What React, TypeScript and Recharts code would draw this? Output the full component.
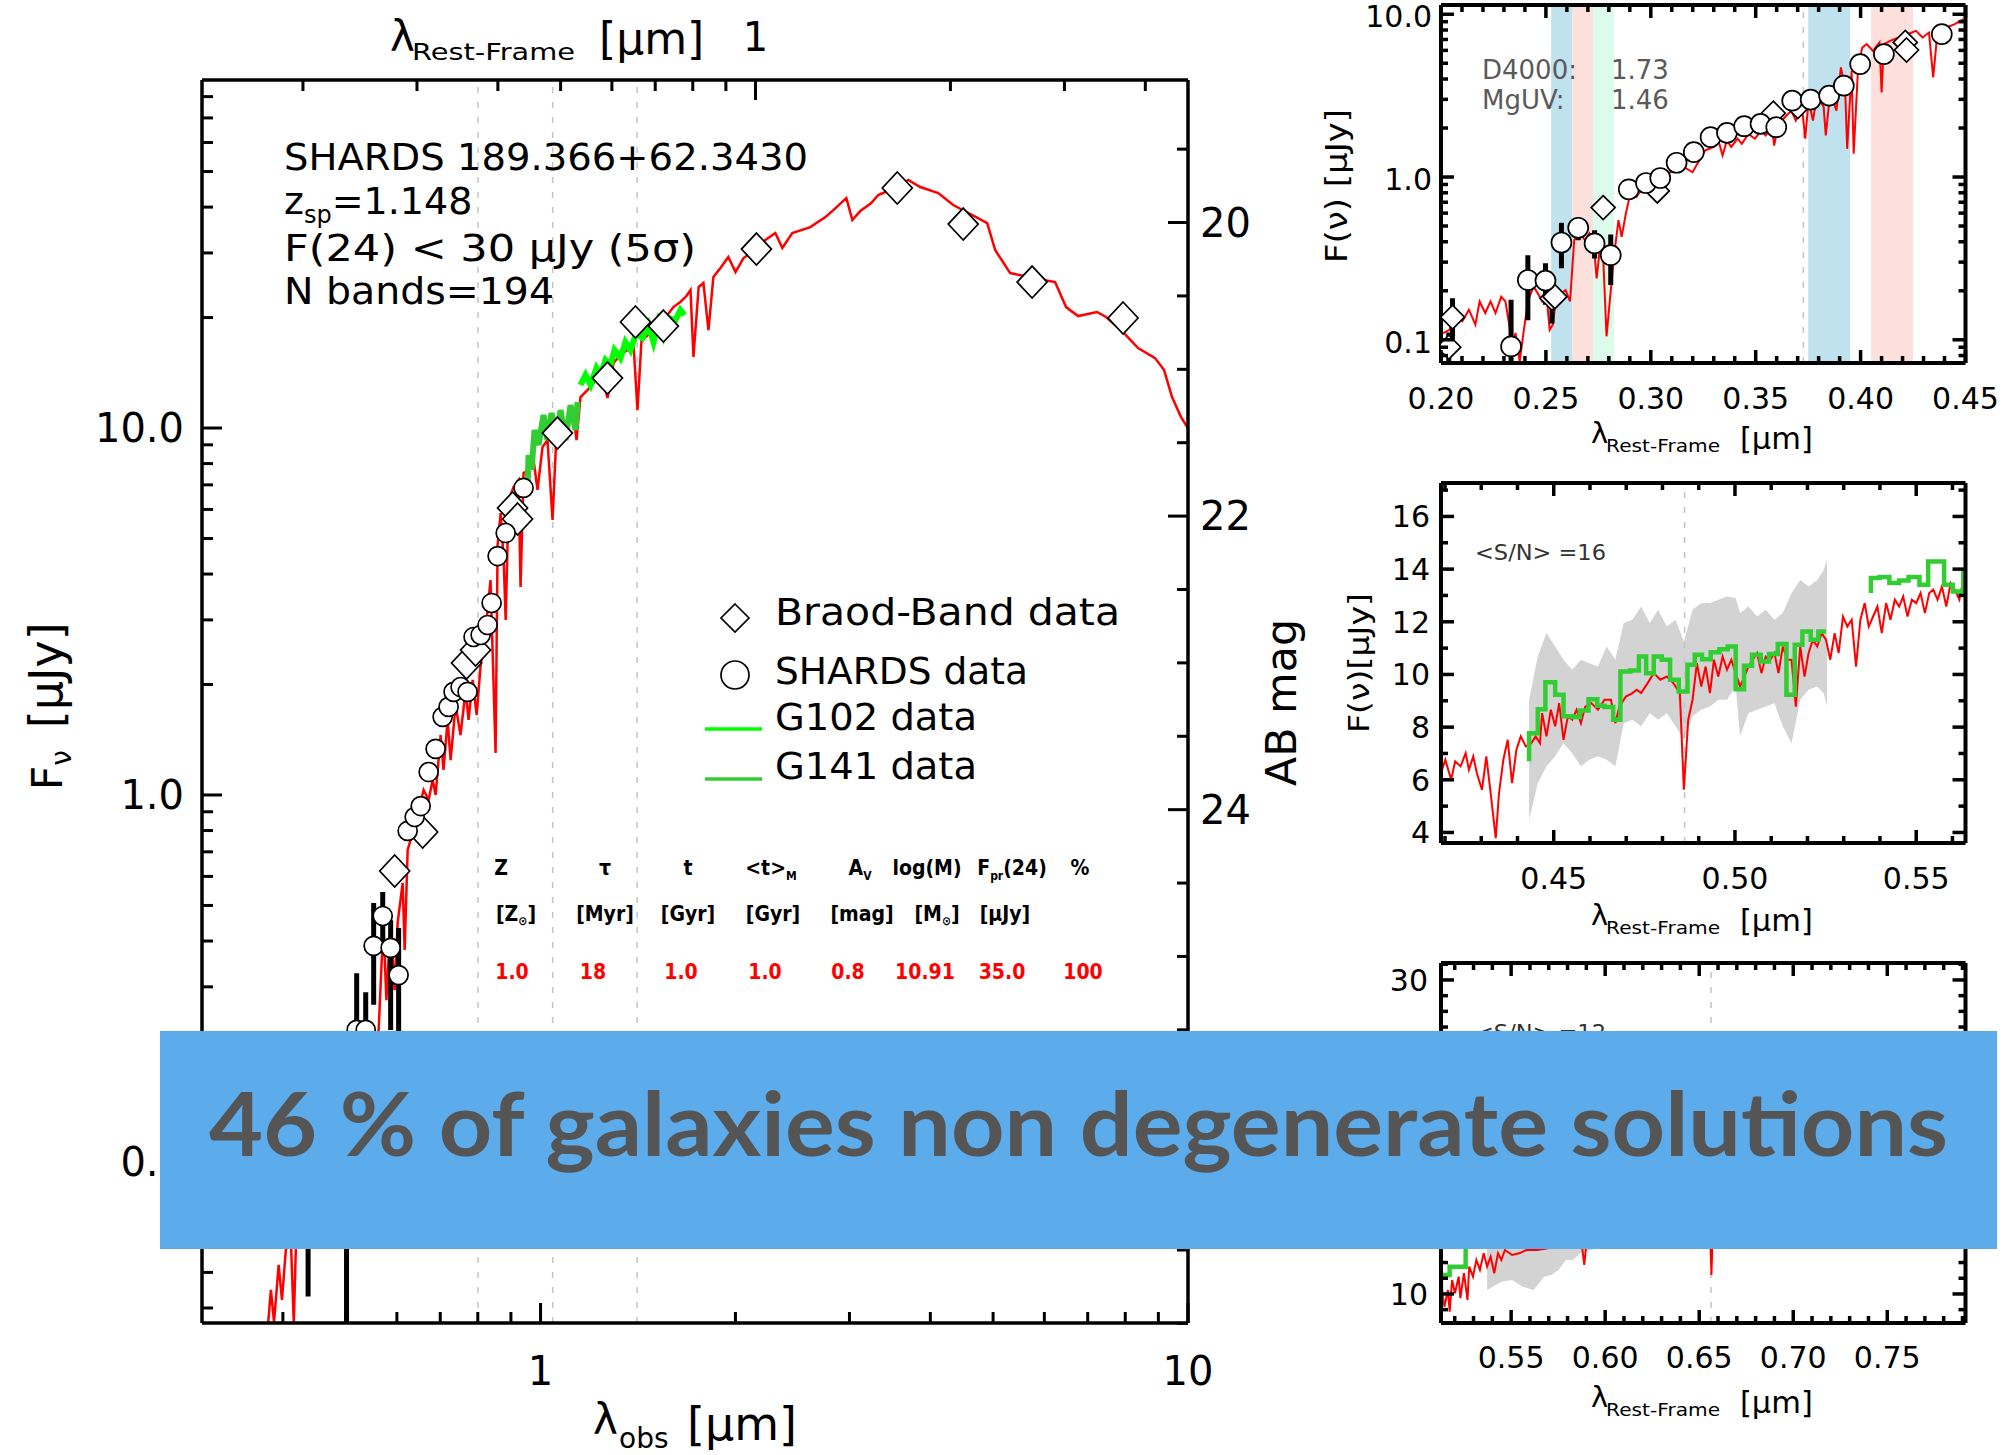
import React from 'react';
import {
  ComposedChart, Line, Scatter, Area, XAxis, YAxis,
  ReferenceLine, ReferenceArea,
} from 'recharts';

const FONT = "'DejaVu Sans', 'Liberation Sans', sans-serif";
const RED = '#ff0000';
const G102 = '#00ff00';
const G141 = '#32cd32';
const zsp = 1.148;

// ---------- main SED, observed frame [um] vs flux [uJy]
const sedLam = [0.3777,0.3833,0.3876,0.394,0.3987,0.4042,0.4115,0.4158,0.42,0.4417,
  0.4913,0.5465,0.5623,0.5685,0.5726,0.578,0.5868,0.5951,0.6016,0.6124,
  0.6168,0.6234,0.6365,0.648,0.6598,0.6717,0.6813,0.6886,0.7009,0.7082,
  0.7186,0.7263,0.7393,0.7523,0.7661,0.7741,0.7856,0.7968,0.8081,0.8195,
  0.8254,0.837,0.8522,0.8584,0.8676,0.8771,0.8834,0.8926,0.9085,0.9248,
  0.9314,0.9414,0.9583,0.9754,0.9894,1.0071,1.025,1.0436,1.0586,1.081,
  1.1007,1.1205,1.1366,1.1527,1.1816,1.2072,1.2378,1.2689,1.2964,1.3287,
  1.3619,1.3915,1.4116,1.432,1.4627,1.4944,1.5314,1.57,1.6039,1.6443,
  1.6801,1.7047,1.7224,1.7548,1.7846,1.817,1.849,1.896,1.9502,2.0005,
  2.058,2.155,2.225,2.305,2.363,2.448,2.61,2.754,2.833,2.967,
  3.031,3.118,3.242,3.323,3.556,3.698,3.858,4.114,4.339,4.708,
  4.896,5.037,5.313,5.766,6.233,6.482,6.765,7.236,7.472,7.938,
  8.373,8.895,9.184,9.448,9.755,10.0];
const sedFlux = [0.0327,0.0448,0.0366,0.0524,0.0421,0.0576,0.0613,0.0364,0.0695,0.0893,
  0.1386,0.202,0.229,0.355,0.421,0.276,0.456,0.294,0.448,0.576,
  0.378,0.708,0.803,0.910,1.032,0.969,1.099,1.0,1.457,1.17,
  1.601,1.245,1.759,1.457,1.932,1.601,2.058,1.652,2.261,2.645,
  2.998,3.853,1.301,4.799,5.867,4.368,2.998,6.366,6.905,7.218,
  3.688,7.542,7.686,8.182,6.78,8.876,9.275,5.614,9.752,10.0,
  10.32,11.34,9.275,12.15,12.69,13.27,14.21,12.07,15.04,15.81,
  16.32,17.04,11.19,17.37,17.86,18.49,19.69,20.32,21.36,22.05,
  22.89,23.77,15.61,24.23,24.85,18.49,25.79,27.29,29.24,26.61,
  29.06,30.74,32.53,33.99,30.94,33.99,35.29,37.57,39.26,42.33,
  36.88,39.02,41.03,43.14,45.37,47.4,45.37,43.69,40.52,37.57,
  36.19,30.55,26.44,25.63,24.99,21.36,20.19,20.71,20.07,18.26,
  16.52,15.51,14.39,12.15,10.71,10.0];

const g141Lam = [0.9548,0.9582,0.9685,0.9789,0.9929,1.0107,1.025,1.0399,1.0586,1.0736,1.0929,1.1125,1.1324,1.1407];
const g141Flux = [6.78,8.44,7.69,9.88,8.99,10.85,9.275,10.99,9.393,11.19,9.275,11.55,9.875,11.77];
const g102Lam = [1.1527,1.1735,1.1946,1.2201,1.2378,1.2597,1.2822,1.301,1.3287,1.3527,1.377,1.406,1.4367,1.4677,1.4944,1.5206,1.5478,1.5757,1.6158,1.6443,1.6677];
const g102Flux = [13.1,13.95,13.1,14.57,13.95,15.32,14.85,16.32,15.51,17.16,16.32,18.15,17.59,19.09,17.16,19.45,17.86,19.94,19.69,20.96,20.32];

const bbLam = [0.4375,0.4414,0.5432,0.5462,0.5953,0.6576,0.7686,0.7937,0.9053,0.9215,1.062,1.2689,1.4016,1.5479,2.155,3.556,4.496,5.744,7.938];
const bbFlux = [0.09,0.138,0.180,0.184,0.6208,0.7929,2.289,2.484,6.053,5.649,9.69,13.68,19.45,18.96,30.74,45.08,35.96,24.99,19.94];
const bbLo = [0.043,0.1,0.126];
const bbHi = [0.111,0.18,0.227];

const shLam = [0.5016,0.52,0.537,0.5524,0.5705,0.5868,0.6037,0.6234,0.6391,0.653,0.6717,0.6886,0.706,0.7211,0.734,0.7525,0.7714,0.788,0.8081,0.8283,0.8403,0.8584,0.8834,0.9414];
const shFlux = [0.091,0.229,0.229,0.388,0.468,0.383,0.323,0.798,0.871,0.933,1.155,1.335,1.632,1.738,1.909,1.969,1.909,2.695,2.729,2.906,3.336,4.479,5.175,6.865];
const shLo = [0.0366,0.15,0.17,0.268,0.378,0.229,0.215];
const shHi = [0.176,0.327,0.29,0.508,0.544,0.456,0.434];

const obsLines = [0.8006, 1.0441, 1.4097];

// ---------- UV zoom panel (rest frame)
const uvLam = [0.2010,0.2041,0.2061,0.2102,0.2133,0.2164,0.2184,0.2211,0.2236,0.2260,
  0.2287,0.2307,0.2324,0.2338,0.2355,0.2375,0.2395,0.2416,0.2441,0.2461,
  0.2482,0.2502,0.2518,0.2533,0.2553,0.2574,0.2594,0.2615,0.2635,0.2662,
  0.2686,0.2707,0.2727,0.2742,0.2758,0.2773,0.2789,0.2805,0.2826,0.2846,
  0.2861,0.2881,0.2902,0.2932,0.2953,0.2994,0.3035,0.3076,0.3117,0.3158,
  0.3199,0.3230,0.3260,0.3301,0.3322,0.3342,0.3363,0.3383,0.3414,0.3434,
  0.3465,0.3496,0.3527,0.3547,0.3578,0.3588,0.3609,0.3639,0.3670,0.3691,
  0.3721,0.3736,0.3752,0.3773,0.3793,0.3824,0.3834,0.3855,0.3885,0.3906,
  0.3926,0.3936,0.3957,0.3967,0.3988,0.4008,0.4029,0.4059,0.4090,0.4100,
  0.4111,0.4141,0.4182,0.4223,0.4264,0.4295,0.4326,0.4346,0.4367,0.4408,
  0.4449,0.4490];
const uvFlux = [0.110,0.115,0.146,0.130,0.153,0.124,0.172,0.146,0.172,0.146,
  0.184,0.172,0.126,0.091,0.110,0.0737,0.115,0.176,0.212,0.193,
  0.172,0.193,0.115,0.124,0.202,0.193,0.202,0.172,0.410,0.450,
  0.410,0.450,0.391,0.238,0.373,0.324,0.105,0.176,0.339,0.543,
  0.429,0.596,0.790,0.754,0.829,0.869,0.954,1.05,1.10,1.15,
  1.07,1.26,1.46,1.53,1.68,1.36,1.68,1.53,1.72,1.60,
  1.84,1.72,1.93,1.80,2.02,1.56,2.12,2.33,2.56,2.22,
  2.68,1.72,2.95,2.22,3.24,2.68,1.80,3.31,2.56,4.72,
  3.56,1.49,4.50,1.39,4.72,6.25,6.55,5.96,6.71,3.31,
  6.55,6.87,7.20,7.54,7.91,7.20,7.72,4.10,7.91,8.29,
  8.69,9.32];
const uvBbLam = [0.2037,0.2055,0.2529,0.2543,0.2773,0.3031,0.3584,0.3701,0.4213,0.4219];
const uvBbFlux = [0.0901,0.1377,0.180,0.184,0.649,0.821,2.466,2.709,6.71,6.03];
const uvBbLo = [0.0723,0.1,0.126];
const uvBbHi = [0.111,0.18,0.227];
const uvShLam = [0.2334,0.2414,0.2498,0.2574,0.2654,0.2732,0.2809,0.2895,0.2977,0.3045,0.3123,0.3205,0.3285,0.3363,0.3445,0.3523,0.3598,0.3674,0.3762,0.3850,0.3920,0.3998,0.4111,0.4387];
const uvShFlux = [0.091,0.233,0.231,0.396,0.488,0.391,0.331,0.840,0.919,0.986,1.224,1.422,1.758,1.868,2.052,2.121,2.023,2.944,2.99,3.162,3.641,4.94,5.69,7.55];
const uvShLo = [0.0725,0.132,0.164,0.275,0.409,0.316,0.217];
const uvShHi = [0.176,0.331,0.295,0.523,0.564,0.471,0.444];
const blueBands = [[0.2525, 0.2625], [0.375, 0.395]];
const redBands = [[0.2625, 0.2725], [0.405, 0.425]];
const greenBands = [[0.2725, 0.2825]];
const uvLines = [0.3727];

// ---------- G102 panel (rest frame)
const optLam = [0.4189,0.4201,0.4217,0.4228,0.4243,0.4257,0.4266,0.4278,0.4288,0.4302,
  0.4314,0.4326,0.4340,0.4349,0.4361,0.4373,0.4385,0.4397,0.4409,0.4423,
  0.4438,0.4450,0.4462,0.4468,0.4480,0.4492,0.4504,0.4515,0.4527,0.4539,
  0.4551,0.4563,0.4575,0.4587,0.4604,0.4622,0.4640,0.4658,0.4670,0.4681,
  0.4699,0.4717,0.4729,0.4741,0.4759,0.4776,0.4794,0.4812,0.4830,0.4848,
  0.4859,0.4871,0.4883,0.4895,0.4907,0.4919,0.4931,0.4942,0.4954,0.4966,
  0.4978,0.4990,0.5002,0.5014,0.5026,0.5037,0.5049,0.5061,0.5073,0.5085,
  0.5097,0.5109,0.5120,0.5132,0.5144,0.5156,0.5168,0.5180,0.5192,0.5203,
  0.5215,0.5227,0.5239,0.5251,0.5263,0.5275,0.5286,0.5298,0.5310,0.5322,
  0.5334,0.5346,0.5358,0.5369,0.5381,0.5393,0.5405,0.5417,0.5429,0.5441,
  0.5453,0.5464,0.5476,0.5488,0.5500,0.5512,0.5524,0.5536,0.5547,0.5559,
  0.5571,0.5583,0.5595,0.5607,0.5619,0.5630];
const optFlux = [6.25,6.76,6.00,6.70,6.51,7.01,6.38,6.89,6.25,5.62,
  6.89,5.49,3.78,5.49,6.76,7.52,5.87,7.14,7.65,7.27,
  7.39,7.65,7.39,8.53,7.65,8.66,8.03,8.91,7.52,8.41,
  8.28,8.66,8.15,8.78,8.91,8.66,9.04,9.04,8.15,8.78,
  9.16,9.29,9.42,9.29,9.67,10.05,9.80,9.92,9.67,9.29,
  5.62,8.28,9.04,10.43,9.54,10.30,9.29,10.56,9.92,10.68,
  10.18,10.56,10.05,9.54,9.92,10.30,10.56,10.81,10.05,10.68,
  10.56,10.81,10.05,11.06,10.56,10.56,8.78,11.06,9.92,10.81,
  11.32,11.06,11.57,11.32,10.56,11.57,10.81,12.20,11.82,12.08,
  10.30,12.08,12.71,11.82,12.20,12.58,11.57,12.71,12.08,12.84,
  12.58,12.96,12.20,12.84,12.71,13.09,12.33,13.09,13.22,12.84,
  13.34,12.58,13.47,13.22,12.84,13.59];
const optStepLam = [0.4432,0.4432,0.4456,0.4477,0.4504,0.4527,0.4551,0.4572,0.4596,0.4620,0.4640,0.4664,
  0.4684,0.4711,0.4735,0.4755,0.4776,0.4798,0.4821,0.4845,0.4869,0.4889,
  0.4909,0.4933,0.4957,0.4980,0.5002,0.5025,0.5047,0.5071,0.5094,0.5118,
  0.5142,0.5165,0.5186,0.5209,0.5230,0.5251,0.5300,
  0.5375,0.5375,0.5399,0.5426,0.5453,0.5479,0.5509,0.5533,0.5577,0.5601,0.5630,0.5636];
const optStepFlux = [6.70,7.77,8.68,9.70,9.23,8.41,8.38,8.63,9.06,8.81,8.76,8.28,
  10.11,10.15,10.68,10.05,10.68,10.56,9.80,9.35,10.37,10.75,
  10.58,10.84,10.96,11.06,9.44,10.33,10.75,10.49,10.78,11.16,
  9.23,11.13,11.63,11.32,11.63,11.63,null,
  13.09,13.66,13.70,13.47,13.57,13.70,13.41,14.29,13.41,13.15,13.91,13.91];
const optBandLam = [0.4432,0.4456,0.4480,0.4504,0.4527,0.4551,0.4575,0.4598,0.4622,0.4646,
  0.4670,0.4693,0.4717,0.4741,0.4765,0.4788,0.4812,0.4836,0.4859,0.4883,
  0.4907,0.4931,0.4954,0.4978,0.5002,0.5014,0.5037,0.5061,0.5085,0.5109,
  0.5132,0.5156,0.5180,0.5203,0.5227,0.5245,0.5254];
const optBandLo = [4.48,5.87,6.51,6.89,7.39,7.01,6.51,6.76,6.89,6.76,
  6.51,8.15,8.28,8.03,8.53,8.28,8.53,8.03,7.52,8.41,
  8.66,8.78,9.04,9.04,9.54,7.65,8.53,8.66,8.78,8.91,
  8.03,7.39,9.04,9.42,9.54,9.29,8.78];
const optBandHi = [9.04,10.68,11.57,11.06,10.56,10.18,10.56,10.43,10.30,11.06,
  10.56,11.95,12.08,12.58,11.95,12.46,11.82,12.08,11.25,12.46,
  12.71,12.71,12.84,12.96,12.90,12.33,12.58,12.20,12.46,12.08,
  12.33,13.09,13.59,13.34,13.59,13.97,14.35];
const optLines = [0.4861];

// ---------- G141 panel (rest frame)
const nirLam = [0.5125,0.5145,0.5164,0.5173,0.5186,0.5201,0.5221,0.5230,0.5249,0.5268,
  0.5277,0.5297,0.5315,0.5334,0.5354,0.5372,0.5391,0.5410,0.5430,0.5448,
  0.5467,0.5505,0.5543,0.5581,0.5638,0.5695,
  0.578,0.587,0.5889,0.5905,0.61,0.63,0.6552,0.6565,0.6578,0.68,0.70,0.72,0.74,0.76,0.78,0.7916];
const nirFlux = [10.89,9.19,10.25,8.87,10.89,10.04,11.10,9.73,11.32,9.62,
  11.74,11.10,12.17,11.53,12.59,11.74,12.38,11.32,12.59,12.17,
  12.80,12.48,12.59,12.80,12.80,12.91,
  13.6,13.7,11.85,13.9,14.6,15.3,16.0,11.21,16.2,17.2,18.0,18.8,19.5,20.3,21.0,21.5];
const nirStepLam = [0.5127,0.5127,0.5173,0.5258,0.535,0.545,0.56,0.58,0.60,0.62,0.64,0.66,0.68,0.70,0.72,0.74,0.76,0.78,0.7916];
const nirStepFlux = [9.19,11.21,11.74,13.2,13.6,14.1,14.7,15.2,15.8,16.4,17.0,17.6,18.2,18.9,19.5,20.1,20.7,21.3,21.3];
const nirBandLam = [0.5372,0.5448,0.5505,0.5562,0.5619,0.5676,0.5714,0.5752,0.5790,0.5828,0.5866,0.5923,0.5961,0.61,0.63,0.65,0.665];
const nirBandLo = [10.25,10.78,10.89,10.46,10.25,11.10,11.21,11.53,12.17,12.17,12.59,12.80,12.91,14.0,14.8,15.4,15.8];
const nirBandHi = [15.5,16.0,16.2,16.0,16.0,16.5,16.8,17.0,17.5,17.5,18.0,18.2,18.3,19.0,19.8,20.5,21.0];
const nirLines = [0.6563];

// ---------- tick lists
const obsTicks = [0.4,0.5,0.6,0.7,0.8,0.9,1,2,3,4,5,6,7,8,9,10];
const restTicks = [0.2,0.3,0.4,0.5,0.6,0.7,0.8,0.9,1,2,3,4];
const fluxTicks = [0.04,0.05,0.06,0.07,0.08,0.09,0.1,0.2,0.3,0.4,0.5,0.6,0.7,0.8,0.9,1,2,3,4,5,6,7,8,9,10,20,30,40,50,60,70,80];
const magTicks = [19.5,20,20.5,21,21.5,22,22.5,23,23.5,24,24.5,25,25.5,26,26.5,27,27.5];
const uvXTicks = [0.2,0.21,0.22,0.23,0.24,0.25,0.26,0.27,0.28,0.29,0.3,0.31,0.32,0.33,0.34,0.35,0.36,0.37,0.38,0.39,0.4,0.41,0.42,0.43,0.44,0.45];
const uvYTicks = [0.08,0.09,0.1,0.2,0.3,0.4,0.5,0.6,0.7,0.8,0.9,1,2,3,4,5,6,7,8,9,10];
const optXTicks = [0.42,0.43,0.44,0.45,0.46,0.47,0.48,0.49,0.5,0.51,0.52,0.53,0.54,0.55,0.56];
const optYTicks = [4,5,6,7,8,9,10,11,12,13,14,15,16,17];
const nirXTicks = [0.52,0.53,0.54,0.55,0.56,0.57,0.58,0.59,0.6,0.61,0.62,0.63,0.64,0.65,0.66,0.67,0.68,0.69,0.7,0.71,0.72,0.73,0.74,0.75,0.76,0.77,0.78,0.79];
const nirYTicks = [9,10,11,12,13,14,15,16,17,18,19,20,21,22,23,24,25,26,27,28,29,30,31];

const fitHead = ['Z', 'τ', 't', '<t>', 'A', 'log(M)', 'F', '%'];
const fitValues = ['1.0', '18', '1.0', '1.0', '0.8', '10.91', '35.0', '100'];

// ---------- helpers
const pts = (xs: number[], ys: (number | null)[]) => xs.map((x, i) => ({ x, f: ys[i] }));
const band = (xs: number[], lo: number[], hi: number[]) => xs.map((x, i) => ({ x, r: [lo[i], hi[i]] }));
// vertical error segments, broken apart by null points
const errSegs = (xs: number[], lo: number[], hi: number[]) => {
  const out: { x: number; f: number | null }[] = [];
  lo.forEach((l, i) => {
    out.push({ x: xs[i], f: l }, { x: xs[i], f: hi[i] }, { x: xs[i], f: null });
  });
  return out;
};

const near = (a: number, b: number) => Math.abs(a - b) <= 1e-6 * Math.max(1, Math.abs(b));

type Side = 'left' | 'right' | 'top' | 'bottom';
interface TickStyle { majLen: number; minLen: number; width: number; fontSize: number; offset: number; dyEm?: number }

function makeTick(side: Side, majors: number[], st: TickStyle, fmt?: (v: number) => string | null) {
  return (props: any) => {
    const { x, y, payload } = props;
    const v = Number(payload.value);
    const major = majors.some((m) => near(v, m));
    const len = major ? st.majLen : st.minLen;
    const label = fmt && major ? fmt(v) : null;
    const mid = `${st.dyEm ?? 0.36}em`;
    let x2 = x, y2 = y, tx = x, ty = y, dy = '0';
    let anchor: any = 'middle';
    if (side === 'bottom') { y2 = y - len; ty = y + st.offset; }
    if (side === 'top') { y2 = y + len; ty = y - st.offset; }
    if (side === 'left') { x2 = x + len; tx = x - st.offset; anchor = 'end'; dy = mid; }
    if (side === 'right') { x2 = x - len; tx = x + st.offset; anchor = 'start'; dy = mid; }
    return (
      <g>
        <line x1={x} y1={y} x2={x2} y2={y2} stroke="#000" strokeWidth={st.width} />
        {label !== null && (
          <text x={tx} y={ty} dy={dy} textAnchor={anchor} fontFamily={FONT} fontSize={st.fontSize} fill="#000" stroke="none">
            {label}
          </text>
        )}
      </g>
    );
  };
}

const axisBase = {
  type: 'number' as const,
  allowDataOverflow: true,
  interval: 0 as const,
  tickSize: 0,
  tickMargin: 0,
  tickLine: false,
};

const circleShape = (r: number) => (p: any) =>
  <circle cx={p.cx} cy={p.cy} r={r} fill="#fff" stroke="#000" strokeWidth={1.7} />;
const diamondShape = (w: number, h: number) => (p: any) =>
  <path d={`M${p.cx},${p.cy - h} L${p.cx + w},${p.cy} L${p.cx},${p.cy + h} L${p.cx - w},${p.cy} Z`} fill="#fff" stroke="#000" strokeWidth={1.7} />;

// ---------- main SED panel
function SedPanel() {
  const st: TickStyle = { majLen: 20, minLen: 11, width: 3, fontSize: 40, offset: 0 };
  const frame = { stroke: '#000', strokeWidth: 3.5 };
  const fTop = 88.8;
  const fBot = 0.0364;
  const magDomain: [number, number] = [23.9 - 2.5 * Math.log10(fTop), 23.9 - 2.5 * Math.log10(fBot)];
  // top axis shares the observed-frame scale; its ticks sit at rest-frame values
  const restAtObs = restTicks.map((r) => r * (1 + zsp));
  const errData = [...errSegs(bbLam, bbLo, bbHi), ...errSegs(shLam, shLo, shHi)];
  return (
    <ComposedChart width={1320} height={1455} margin={{ top: 0, right: 0, bottom: 0, left: 0 }}>
      <XAxis {...axisBase} xAxisId="obs" dataKey="x" scale="log" domain={[0.3, 10]} ticks={obsTicks}
        height={132} axisLine={frame} tick={makeTick('bottom', [1, 10], { ...st, offset: 62 }, (v) => String(v))} />
      <XAxis {...axisBase} xAxisId="rest" orientation="top" dataKey="x" scale="log" domain={[0.3, 10]} ticks={restAtObs}
        height={80} axisLine={frame} tick={makeTick('top', [1 + zsp], { ...st, offset: 29 }, (v) => String(Math.round(v / (1 + zsp))))} />
      <YAxis {...axisBase} yAxisId="flux" scale="log" domain={[fBot, fTop]} ticks={fluxTicks} width={202}
        axisLine={frame} tick={makeTick('left', [0.1, 1, 10], { ...st, offset: 18 }, (v) => v.toFixed(1))} />
      <YAxis {...axisBase} yAxisId="mag" orientation="right" reversed domain={magDomain} ticks={magTicks} width={132}
        axisLine={frame} tick={makeTick('right', [20, 22, 24, 26], { ...st, offset: 12 }, (v) => (v < 25 ? String(v) : null))} />
      {obsLines.map((l) => (
        <ReferenceLine key={l} xAxisId="obs" yAxisId="flux" x={l} stroke="#c4c4c4" strokeWidth={1.5} strokeDasharray="6 9" />
      ))}
      <Line xAxisId="rest" yAxisId="flux" data={pts(sedLam, sedFlux)} dataKey="f" type="linear" stroke={RED}
        strokeWidth={2.5} dot={false} isAnimationActive={false} />
      <Line xAxisId="obs" yAxisId="flux" data={pts(g141Lam, g141Flux)} dataKey="f" type="linear" stroke={G141}
        strokeWidth={6} dot={false} isAnimationActive={false} />
      <Line xAxisId="obs" yAxisId="flux" data={pts(g102Lam, g102Flux)} dataKey="f" type="linear" stroke={G102}
        strokeWidth={6} dot={false} isAnimationActive={false} />
      <Line xAxisId="obs" yAxisId="flux" data={errData} dataKey="f" type="linear" stroke="#000"
        strokeWidth={5} dot={false} isAnimationActive={false} />
      <Scatter xAxisId="obs" yAxisId="flux" data={pts(bbLam, bbFlux)} dataKey="f"
        shape={diamondShape(15, 16)} isAnimationActive={false} />
      <Scatter xAxisId="obs" yAxisId="flux" data={pts(shLam, shFlux)} dataKey="f"
        shape={circleShape(9.5)} isAnimationActive={false} />
    </ComposedChart>
  );
}

// ---------- axes shared by the three zoom panels
function panelAxes(o: {
  xDomain: [number, number]; yDomain: [number, number]; yLog?: boolean;
  xTicks: number[]; xMajors: number[]; yTicks: number[]; yMajors: number[];
  fmtY: (v: number) => string | null; yOff: number; xOff: number; top: number; bottom: number; dyEm?: number;
}) {
  const st: TickStyle = { majLen: 13, minLen: 7, width: 3.5, fontSize: 30, offset: 0 };
  const frame = { stroke: '#000', strokeWidth: 4 };
  // the mirrored right axis carries no series, so a log axis is drawn on log10 values
  const rDomain: [number, number] = o.yLog ? [Math.log10(o.yDomain[0]), Math.log10(o.yDomain[1])] : o.yDomain;
  const rTicks = o.yLog ? o.yTicks.map(Math.log10) : o.yTicks;
  const rMajors = o.yLog ? o.yMajors.map(Math.log10) : o.yMajors;
  return [
    <XAxis key="xb" {...axisBase} xAxisId="b" dataKey="x" domain={o.xDomain} ticks={o.xTicks} height={o.bottom}
      axisLine={frame} tick={makeTick('bottom', o.xMajors, { ...st, offset: o.xOff }, (v) => v.toFixed(2))} />,
    <XAxis key="xt" {...axisBase} xAxisId="t" orientation="top" dataKey="x" domain={o.xDomain} ticks={o.xTicks} height={o.top}
      axisLine={frame} tick={makeTick('top', o.xMajors, st)} />,
    <YAxis key="yl" {...axisBase} yAxisId="l" scale={o.yLog ? 'log' : 'linear'} domain={o.yDomain} ticks={o.yTicks} width={141}
      axisLine={frame} tick={makeTick('left', o.yMajors, { ...st, offset: o.yOff, dyEm: o.dyEm }, o.fmtY)} />,
    <YAxis key="yr" {...axisBase} yAxisId="r" orientation="right" domain={rDomain} ticks={rTicks} width={48.5}
      axisLine={frame} tick={makeTick('right', rMajors, st)} />,
  ];
}

function UvPanel() {
  return (
    <ComposedChart width={714} height={480} margin={{ top: 0, right: 0, bottom: 0, left: 0 }}>
      {panelAxes({
        xDomain: [0.2, 0.45], yDomain: [0.072, 11.4], yLog: true,
        xTicks: uvXTicks, xMajors: [0.2, 0.25, 0.3, 0.35, 0.4, 0.45],
        yTicks: uvYTicks, yMajors: [0.1, 1, 10], fmtY: (v) => v.toFixed(1),
        yOff: 9, xOff: 46, top: 5, bottom: 117, dyEm: 0.44,
      })}
      {blueBands.map((b) => (
        <ReferenceArea key={'b' + b[0]} xAxisId="b" yAxisId="l" x1={b[0]} x2={b[1]} fill="#c0e2ee" fillOpacity={1} stroke="none" />
      ))}
      {redBands.map((b) => (
        <ReferenceArea key={'r' + b[0]} xAxisId="b" yAxisId="l" x1={b[0]} x2={b[1]} fill="#fde0dc" fillOpacity={1} stroke="none" />
      ))}
      {greenBands.map((b) => (
        <ReferenceArea key={'g' + b[0]} xAxisId="b" yAxisId="l" x1={b[0]} x2={b[1]} fill="#dcfbeb" fillOpacity={1} stroke="none" />
      ))}
      {uvLines.map((l) => (
        <ReferenceLine key={l} xAxisId="b" yAxisId="l" x={l} stroke="#c4c4c4" strokeWidth={1.5} strokeDasharray="6 9" />
      ))}
      <Line xAxisId="t" yAxisId="l" data={pts(uvLam, uvFlux)} dataKey="f" type="linear" stroke={RED}
        strokeWidth={2} dot={false} isAnimationActive={false} />
      <Line xAxisId="b" yAxisId="l" data={[...errSegs(uvBbLam, uvBbLo, uvBbHi), ...errSegs(uvShLam, uvShLo, uvShHi)]}
        dataKey="f" type="linear" stroke="#000" strokeWidth={5} dot={false} isAnimationActive={false} />
      <Scatter xAxisId="b" yAxisId="l" data={pts(uvBbLam, uvBbFlux)} dataKey="f"
        shape={diamondShape(12, 12)} isAnimationActive={false} />
      <Scatter xAxisId="b" yAxisId="l" data={pts(uvShLam, uvShFlux)} dataKey="f"
        shape={circleShape(10)} isAnimationActive={false} />
    </ComposedChart>
  );
}

function OptPanel() {
  return (
    <ComposedChart width={714} height={480} margin={{ top: 0, right: 0, bottom: 0, left: 0 }}>
      {panelAxes({
        xDomain: [0.4189, 0.5636], yDomain: [3.6, 17.27],
        xTicks: optXTicks, xMajors: [0.45, 0.5, 0.55],
        yTicks: optYTicks, yMajors: [4, 6, 8, 10, 12, 14, 16], fmtY: (v) => String(v),
        yOff: 11, xOff: 46, top: 13, bottom: 107,
      })}
      <Area xAxisId="b" yAxisId="l" data={band(optBandLam, optBandLo, optBandHi)} dataKey="r" type="linear"
        fill="#d3d3d3" fillOpacity={1} stroke="none" isAnimationActive={false} />
      {optLines.map((l) => (
        <ReferenceLine key={l} xAxisId="b" yAxisId="l" x={l} stroke="#c4c4c4" strokeWidth={1.5} strokeDasharray="6 9" />
      ))}
      <Line xAxisId="t" yAxisId="l" data={pts(optLam, optFlux)} dataKey="f" type="linear" stroke={RED}
        strokeWidth={2} dot={false} isAnimationActive={false} />
      <Line xAxisId="b" yAxisId="l" data={pts(optStepLam, optStepFlux)} dataKey="f" type="stepAfter" stroke={G141}
        strokeWidth={4.5} dot={false} isAnimationActive={false} />
    </ComposedChart>
  );
}

function NirPanel() {
  return (
    <ComposedChart width={714} height={505} margin={{ top: 0, right: 0, bottom: 0, left: 0 }}>
      {panelAxes({
        xDomain: [0.5127, 0.7916], yDomain: [8.15, 31.08],
        xTicks: nirXTicks, xMajors: [0.55, 0.6, 0.65, 0.7, 0.75],
        yTicks: nirYTicks, yMajors: [10, 15, 20, 25, 30],
        // the 15-25 labels sit under the banner in the original
        fmtY: (v) => (v === 10 || v === 30 ? String(v) : null),
        yOff: 13, xOff: 45, top: 13, bottom: 132,
      })}
      <Area xAxisId="b" yAxisId="l" data={band(nirBandLam, nirBandLo, nirBandHi)} dataKey="r" type="linear"
        fill="#d3d3d3" fillOpacity={1} stroke="none" isAnimationActive={false} />
      {nirLines.map((l) => (
        <ReferenceLine key={l} xAxisId="b" yAxisId="l" x={l} stroke="#c4c4c4" strokeWidth={1.5} strokeDasharray="6 9" />
      ))}
      <Line xAxisId="t" yAxisId="l" data={pts(nirLam, nirFlux)} dataKey="f" type="linear" stroke={RED}
        strokeWidth={2} dot={false} isAnimationActive={false} />
      <Line xAxisId="b" yAxisId="l" data={pts(nirStepLam, nirStepFlux)} dataKey="f" type="stepAfter" stroke={G141}
        strokeWidth={4.5} dot={false} isAnimationActive={false} />
    </ComposedChart>
  );
}

function RestTitle({ x, y, big, sub, bracketX, subLen }: { x: number; y: number; big: number; sub: number; bracketX: number; subLen: number }) {
  return (
    <g fontFamily={FONT} fill="#000">
      <text x={x} y={y} fontSize={big}>λ</text>
      <text x={x + big * 0.52} y={y + big * 0.3} fontSize={sub} textLength={subLen} lengthAdjust="spacingAndGlyphs">Rest-Frame</text>
      <text x={bracketX} y={y + big * 0.2} fontSize={big * 1.05}>[μm]</text>
    </g>
  );
}

function Annotations() {
  const headX = [501, 605, 688, 771, 860, 927, 1012, 1080];
  const unitX = [516, 605, 688, 773, 862, 937, 1005];
  const valX = [512, 593, 681, 765, 848, 925, 1002, 1083];
  const tb = { fontFamily: "'DejaVu Sans Condensed', 'DejaVu Sans', sans-serif", fontWeight: 700, fontSize: 21, textAnchor: 'middle' as const };
  return (
    <svg width={2014} height={1455} style={{ position: 'absolute', left: 0, top: 0, pointerEvents: 'none' }}>
      {/* main panel titles */}
      <g fontFamily={FONT} fill="#000">
        <text x={390} y={51} fontSize={42}>λ</text>
        <text x={412} y={60} fontSize={23} textLength={163} lengthAdjust="spacingAndGlyphs">Rest-Frame</text>
        <text x={599} y={54} fontSize={44}>[μm]</text>
        <text x={593} y={1434} fontSize={42}>λ</text>
        <text x={619} y={1448} fontSize={28}>obs</text>
        <text x={687} y={1440} fontSize={46}>[μm]</text>
        <text transform="translate(62,790) rotate(-90)" fontSize={42}>
          F<tspan fontSize={28} dy={9}>ν</tspan><tspan dy={-9} dx={22} fontSize={46}>[μJy]</tspan>
        </text>
        <text transform="translate(1296,786) rotate(-90)" fontSize={42} textLength={167} lengthAdjust="spacingAndGlyphs">AB mag</text>

        <text x={284} y={170} fontSize={38} textLength={524} lengthAdjust="spacingAndGlyphs">SHARDS 189.366+62.3430</text>
        <text x={284} y={214} fontSize={38}>z<tspan fontSize={24} dy={9}>sp</tspan><tspan dy={-9}>=1.148</tspan></text>
        <text x={284} y={261} fontSize={38} textLength={412} lengthAdjust="spacingAndGlyphs">F(24) &lt; 30 μJy (5σ)</text>
        <text x={284} y={304} fontSize={38} textLength={270} lengthAdjust="spacingAndGlyphs">N bands=194</text>

        <text x={775} y={625} fontSize={38} textLength={345} lengthAdjust="spacingAndGlyphs">Braod-Band data</text>
        <text x={775} y={684} fontSize={38} textLength={253} lengthAdjust="spacingAndGlyphs">SHARDS data</text>
        <text x={775} y={730} fontSize={38} textLength={202} lengthAdjust="spacingAndGlyphs">G102 data</text>
        <text x={775} y={779} fontSize={38} textLength={202} lengthAdjust="spacingAndGlyphs">G141 data</text>
      </g>
      <path d="M735,604 L749,618 L735,632 L721,618 Z" fill="#fff" stroke="#000" strokeWidth={1.7} />
      <circle cx={735} cy={675} r={14} fill="#fff" stroke="#000" strokeWidth={1.7} />
      <line x1={705} x2={762} y1={729} y2={729} stroke={G102} strokeWidth={3.5} />
      <line x1={705} x2={762} y1={779} y2={779} stroke={G141} strokeWidth={3.5} />

      {/* fit table */}
      <g {...tb} fill="#000">
        {fitHead.map((h, i) => (
          <text key={'h' + i} x={headX[i]} y={875}>
            {h}
            {i === 3 && <tspan fontSize={12} dy={5}>M</tspan>}
            {i === 4 && <tspan fontSize={12} dy={5}>V</tspan>}
            {i === 6 && <tspan fontSize={12} dy={5}>pr</tspan>}
            {i === 6 && <tspan dy={-5}>(24)</tspan>}
          </text>
        ))}
        <text x={unitX[0]} y={921}>[Z<tspan fontSize={12} dy={4}>⊙</tspan><tspan dy={-4}>]</tspan></text>
        <text x={unitX[1]} y={921}>[Myr]</text>
        <text x={unitX[2]} y={921}>[Gyr]</text>
        <text x={unitX[3]} y={921}>[Gyr]</text>
        <text x={unitX[4]} y={921}>[mag]</text>
        <text x={unitX[5]} y={921}>[M<tspan fontSize={12} dy={4}>⊙</tspan><tspan dy={-4}>]</tspan></text>
        <text x={unitX[6]} y={921}>[μJy]</text>
      </g>
      <g {...tb} fill={RED}>
        {fitValues.map((v, i) => (
          <text key={'v' + i} x={valX[i]} y={979}>{v}</text>
        ))}
      </g>

      {/* right panels */}
      <RestTitle x={1591} y={443} big={29} sub={17} bracketX={1740} subLen={114} />
      <RestTitle x={1591} y={925} big={29} sub={17} bracketX={1740} subLen={114} />
      <RestTitle x={1591} y={1407} big={29} sub={17} bracketX={1740} subLen={114} />
      <g fontFamily={FONT} fill="#000">
        <text transform="translate(1347,263) rotate(-90)" fontSize={30} textLength={154} lengthAdjust="spacingAndGlyphs">F(ν) [μJy]</text>
        <text transform="translate(1369,733) rotate(-90)" fontSize={29} textLength={140} lengthAdjust="spacingAndGlyphs">F(ν)[μJy]</text>
      </g>
      <g fontFamily={FONT} fill="#5a5a5a" fontSize={26}>
        <text x={1482} y={79}>D4000:</text>
        <text x={1611} y={79}>1.73</text>
        <text x={1482} y={109}>MgUV:</text>
        <text x={1611} y={109}>1.46</text>
      </g>
      <g fontFamily={FONT} fill="#333" fontSize={22}>
        <text x={1475} y={560} textLength={131} lengthAdjust="spacingAndGlyphs">&lt;S/N&gt; =16</text>
        <text x={1475} y={1040} textLength={131} lengthAdjust="spacingAndGlyphs">&lt;S/N&gt; =12</text>
      </g>
    </svg>
  );
}

function Banner() {
  return (
    <div style={{ position: 'absolute', left: 160, top: 1031, width: 1837, height: 218, background: '#5cabeb' }}>
      <svg width={1837} height={218}>
        <text x={49} y={125} fontFamily="Lato, 'Open Sans', sans-serif" fontWeight={700} fontSize={88}
          fill="#555555" textLength={1739} lengthAdjust="spacingAndGlyphs">
          46 % of galaxies non degenerate solutions
        </text>
      </svg>
    </div>
  );
}

export default function App() {
  return (
    <div style={{ position: 'absolute', left: 0, top: 0, width: 2014, height: 1455, background: '#fff', overflow: 'hidden' }}>
      <div style={{ position: 'absolute', left: 0, top: 0 }}><SedPanel /></div>
      <div style={{ position: 'absolute', left: 1300, top: 0 }}><UvPanel /></div>
      <div style={{ position: 'absolute', left: 1300, top: 470 }}><OptPanel /></div>
      <div style={{ position: 'absolute', left: 1300, top: 950 }}><NirPanel /></div>
      <Annotations />
      <Banner />
    </div>
  );
}
